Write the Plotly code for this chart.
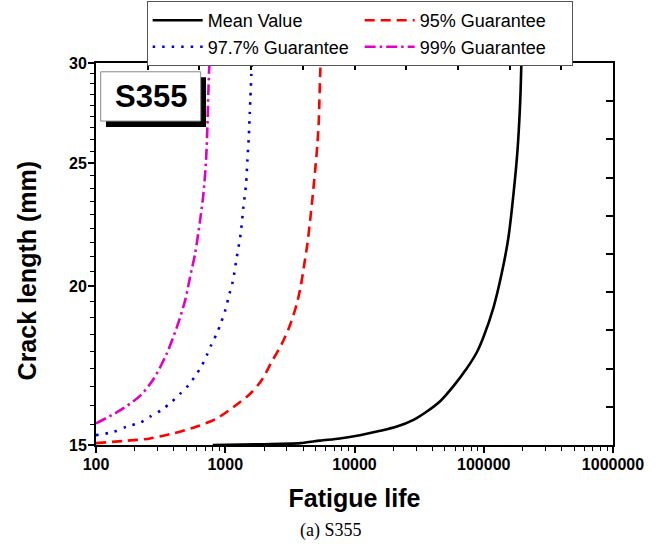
import numpy as np
import plotly.graph_objects as go

# ---------------- data ----------------
mean_N = [800, 2000, 3800, 5400, 7700, 11000, 15800, 21300, 28600, 36300, 46000,
          58300, 74000, 88400, 99500, 118900, 138000, 155300, 169800, 182300, 191300, 195500]
mean_a = [15.0, 15.02, 15.05, 15.12, 15.18, 15.27, 15.39, 15.51, 15.70, 15.94, 16.24,
          16.69, 17.24, 17.75, 18.25, 19.25, 20.50, 21.87, 23.65, 25.58, 27.93, 30.0]

g95_N = [100, 163, 262, 396, 602, 859, 1155, 1556, 1917, 2290, 2737, 3173, 3575, 3861,
         4095, 4320, 4531, 4757, 4955, 5163, 5294, 5350, 5418, 5460]
g95_a = [15.05, 15.11, 15.18, 15.32, 15.51, 15.74, 16.07, 16.46, 16.88, 17.45, 18.02, 18.65,
         19.37, 20.08, 20.85, 21.61, 22.53, 23.63, 24.66, 25.89, 27.02, 28.02, 29.25, 30.0]

g977_N = [100, 136, 173, 219, 262, 323, 385, 447, 518, 602, 658, 719, 786, 859, 923, 996,
          1076, 1143, 1228, 1318, 1380, 1449, 1483, 1520, 1548, 1564, 1592, 1600]
g977_a = [15.27, 15.36, 15.51, 15.62, 15.79, 15.99, 16.22, 16.46, 16.71, 17.07, 17.32, 17.65,
          18.02, 18.36, 18.70, 19.13, 19.72, 20.18, 21.09, 22.03, 23.08, 24.08, 25.13, 26.2,
          27.4, 28.1, 29.4, 30.0]

g99_N = [100, 153, 219, 278, 352, 421, 489, 534, 584, 638, 677, 710, 727, 740, 753, 760]
g99_a = [15.60, 15.97, 16.40, 16.90, 17.70, 18.56, 19.49, 20.34, 21.22, 22.53, 23.63, 25.13,
         26.67, 28.44, 29.80, 30.0]

series_names = ["Mean Value", "95% Guarantee", "97.7% Guarantee", "99% Guarantee"]

x_tickvals = [100, 1000, 10000, 100000, 1000000]
x_ticktext = ["100", "1000", "10000", "100000", "1000000"]
y_tickvals = [15, 20, 25, 30]
y_ticktext = ["15", "20", "25", "30"]

# minor ticks
x_minor = [m * 10 ** e for e in range(2, 6) for m in range(2, 10)]
y_minor = [15 + k * 5 / 9 for k in range(1, 27) if k % 9 != 0]

FONT = "Liberation Sans, Arial, sans-serif"
XR = [2, 6]
YR = [np.log10(15), np.log10(30)]

fig = go.Figure()

line_common = dict(width=2.6, shape="spline", smoothing=0.8)
fig.add_trace(go.Scatter(x=mean_N, y=mean_a, mode="lines", name=series_names[0],
                         line=dict(color="black", **line_common)))
fig.add_trace(go.Scatter(x=g95_N, y=g95_a, mode="lines", name=series_names[1],
                         line=dict(color="#ff0000", dash="10px,6px", **line_common)))
fig.add_trace(go.Scatter(x=g977_N, y=g977_a, mode="lines", name=series_names[2],
                         line=dict(color="#0000dd", dash="2.5px,7px", **line_common)))
fig.add_trace(go.Scatter(x=g99_N, y=g99_a, mode="lines", name=series_names[3],
                         line=dict(color="#e000c8", dash="11px,4px,2.5px,4px", **line_common)))

# empty helper traces so the extra tick axes are drawn
for xa, ya in [("x2", "y"), ("x", "y2"), ("x3", "y"), ("x", "y3")]:
    fig.add_trace(go.Scatter(x=[], y=[], xaxis=xa, yaxis=ya, showlegend=False, hoverinfo="skip"))

axis_common = dict(showgrid=False, zeroline=False, showline=True, linecolor="black",
                   linewidth=2, mirror=True, ticks="outside", ticklen=4, tickwidth=1.3,
                   tickcolor="black")
bare = dict(showticklabels=False, showgrid=False, zeroline=False, showline=False,
            tickcolor="black")

fig.update_layout(
    width=662, height=555,
    margin=dict(l=96, r=49, t=63, b=110, autoexpand=False),
    paper_bgcolor="white", plot_bgcolor="white",
    font=dict(family=FONT, color="black"),
    # main axes: labels + minor ticks
    xaxis=dict(type="log", range=XR, tickvals=x_tickvals + x_minor,
               ticktext=x_ticktext + [""] * len(x_minor),
               tickfont=dict(size=16, weight="bold", family=FONT),
               title=dict(text="Fatigue life", font=dict(size=25, weight="bold", family=FONT),
                          standoff=17),
               **axis_common),
    yaxis=dict(type="log", range=YR, tickvals=y_tickvals + y_minor,
               ticktext=y_ticktext + [""] * len(y_minor),
               tickfont=dict(size=16, weight="bold", family=FONT),
               **axis_common),
    # mirror ticks on top / right (evenly spaced, inside)
    xaxis2=dict(overlaying="x", side="top", anchor="y", range=[0, 10],
                tickvals=list(range(1, 10)), ticks="inside", ticklen=7, tickwidth=1.5, **bare),
    yaxis2=dict(overlaying="y", side="right", anchor="x", range=[0, 10],
                tickvals=list(range(1, 10)), ticks="inside", ticklen=7, tickwidth=1.5, **bare),
    # longer major ticks on bottom / left (log10 positions on a linear overlay)
    xaxis3=dict(overlaying="x", side="bottom", anchor="y", range=XR,
                tickvals=[float(np.log10(v)) for v in x_tickvals], ticks="outside",
                ticklen=7, tickwidth=1.5, **bare),
    yaxis3=dict(overlaying="y", side="left", anchor="x", range=YR,
                tickvals=[float(np.log10(v)) for v in y_tickvals], ticks="outside",
                ticklen=7, tickwidth=1.5, **bare),
    legend=dict(orientation="h", x=0.098, y=1.162, xanchor="left", yanchor="top",
                entrywidth=147, entrywidthmode="pixels", itemwidth=50,
                bgcolor="white", bordercolor="#555555", borderwidth=1,
                font=dict(size=18, family=FONT), traceorder="normal",
                tracegroupgap=0),
    showlegend=True,
)

# y-axis title (placed slightly below the axis centre, as in the reference)
fig.add_annotation(xref="paper", yref="paper", x=-0.133, y=0.455, text="Crack length (mm)",
                   textangle=-90, showarrow=False, xanchor="center", yanchor="middle",
                   font=dict(size=25, weight="bold", family=FONT, color="black"))

# S355 label box with shadow
fig.add_shape(type="rect", xref="paper", yref="paper", x0=0.0193, x1=0.2128, y0=0.8325, y1=0.963,
              fillcolor="black", line=dict(width=0))
fig.add_shape(type="rect", xref="paper", yref="paper", x0=0.0091, x1=0.2025, y0=0.848, y1=0.977,
              fillcolor="white", line=dict(color="#888888", width=1))
fig.add_annotation(xref="paper", yref="paper", x=0.106, y=0.913, text="S355", showarrow=False,
                   font=dict(size=31, weight="bold", family=FONT, color="black"),
                   xanchor="center", yanchor="middle")

# caption
fig.add_annotation(xref="paper", yref="paper", x=0.4545, y=-0.225, text="(a) S355",
                   showarrow=False, xanchor="center", yanchor="middle",
                   font=dict(size=18, family="Liberation Serif, Times New Roman, serif",
                             color="black"))

fig.write_html("out.html")
